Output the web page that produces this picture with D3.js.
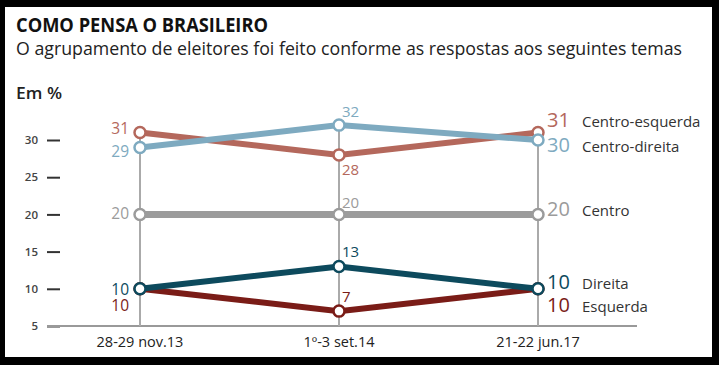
<!DOCTYPE html>
<html>
<head>
<meta charset="utf-8">
<script src="https://cdn.jsdelivr.net/npm/d3@7"></script>
<style>
  body { margin: 0; background: #000; }
  svg { display: block; }
  text { font-family: "Open Sans", "Noto Sans", sans-serif; }
</style>
</head>
<body>
<div id="chart"></div>
<script>
// Survey dates (x categories)
const dates = ["28-29 nov.13", "1º-3 set.14", "21-22 jun.17"];

// Series values, in %
const centroEsquerda = [31, 28, 31];
const centroDireita = [29, 32, 30];
const centro = [20, 20, 20];
const esquerda = [10, 7, 10];
const direita = [10, 13, 10];

const yTicks = [5, 10, 15, 20, 25, 30];

// drawing order: later ones sit on top
const series = [
    { name: "Centro-esquerda", values: centroEsquerda, color: "#b4685c", width: 6 },
    { name: "Centro-direita", values: centroDireita, color: "#7eaac0", width: 6 },
    { name: "Centro", values: centro, color: "#9b9b9b", width: 7 },
    { name: "Esquerda", values: esquerda, color: "#7a1c17", width: 6 },
    { name: "Direita", values: direita, color: "#0d4a5d", width: 6 }
];

// label offsets (baseline relative to the point) for each date
const labelDy = {
    "Centro-esquerda": [1, 20, -6],
    "Centro-direita": [10, -8, 12],
    "Centro": [5, -6, 2],
    "Esquerda": [22, -9, 23],
    "Direita": [6, -9, 0]
};

const W = 719, H = 365;

const svg = d3.select('#chart')
    .append('svg')
    .attr('width', W)
    .attr('height', H);

svg.append('rect')
    .attr('width', W).attr('height', H)
    .attr('fill', '#000');

svg.append('rect')
    .attr('x', 5).attr('y', 7)
    .attr('width', 707).attr('height', 350)
    .attr('fill', '#fff');

// Titles
svg.append('text')
    .attr('x', 16).attr('y', 32)
    .attr('textLength', 252)
    .attr('lengthAdjust', 'spacingAndGlyphs')
    .style('font-size', '19px')
    .style('font-weight', 'bold')
    .style('fill', '#111')
    .text('COMO PENSA O BRASILEIRO');

svg.append('text')
    .attr('x', 16).attr('y', 55)
    .attr('textLength', 666)
    .attr('lengthAdjust', 'spacingAndGlyphs')
    .style('font-size', '17.5px')
    .style('fill', '#222')
    .text('O agrupamento de eleitores foi feito conforme as respostas aos seguintes temas');

svg.append('text')
    .attr('x', 16).attr('y', 99)
    .attr('textLength', 46)
    .attr('lengthAdjust', 'spacingAndGlyphs')
    .style('font-size', '16px')
    .style('font-weight', '600')
    .style('fill', '#222')
    .text('Em %');

// Scales
const x = d3.scalePoint().domain(dates).range([140, 538]);
const y = d3.scaleLinear().domain([5, 30]).range([326, 140]);

// Y axis: short dashes, no domain line
const yAxis = svg.append('g')
    .attr('transform', 'translate(60,0)')
    .call(d3.axisLeft(y).tickValues(yTicks).tickSize(13).tickPadding(9));
yAxis.select('.domain').remove();
yAxis.selectAll('line').attr('stroke', '#333').attr('stroke-width', 2);
yAxis.selectAll('text')
    .style('font-family', '"Open Sans", sans-serif')
    .style('font-size', '11.5px')
    .style('font-weight', '600')
    .style('fill', '#444');

// baseline
svg.append('line')
    .attr('x1', 47).attr('x2', 637)
    .attr('y1', y(yTicks[0])).attr('y2', y(yTicks[0]))
    .attr('stroke', '#999')
    .attr('stroke-width', 2);

// X labels
svg.selectAll('.xlab')
    .data(dates)
    .enter()
    .append('text')
    .attr('class', 'xlab')
    .attr('x', d => x(d))
    .attr('y', 347)
    .attr('text-anchor', 'middle')
    .style('font-size', '14.5px')
    .style('fill', '#222')
    .text(d => d);

// Vertical guides from top value down to baseline
svg.selectAll('.guide')
    .data(dates)
    .enter()
    .append('line')
    .attr('class', 'guide')
    .attr('x1', d => x(d)).attr('x2', d => x(d))
    .attr('y1', (d, i) => y(d3.max(series, s => s.values[i])))
    .attr('y2', y(yTicks[0]))
    .attr('stroke', '#aaa')
    .attr('stroke-width', 2);

const line = d3.line()
    .x((d, i) => x(dates[i]))
    .y(d => y(d));

series.forEach(s => {
    const g = svg.append('g');

    g.append('path')
        .attr('d', line(s.values))
        .attr('fill', 'none')
        .attr('stroke', s.color)
        .attr('stroke-width', s.width);

    g.selectAll('circle')
        .data(s.values)
        .enter()
        .append('circle')
        .attr('cx', (d, i) => x(dates[i]))
        .attr('cy', d => y(d))
        .attr('r', 5.5)
        .attr('fill', '#fff')
        .attr('stroke', s.color)
        .attr('stroke-width', 2.5);
});

// Value labels
series.forEach(s => {
    const dy = labelDy[s.name];
    s.values.forEach((v, i) => {
        const px = x(dates[i]);
        const py = y(v) + dy[i];
        const t = svg.append('text')
            .attr('y', py)
            .style('fill', s.color)
            .text(v);
        if (i === 0) {
            t.attr('x', px - 11).attr('text-anchor', 'end').style('font-size', '15.5px');
        } else if (i === 1) {
            t.attr('x', px + 3).style('font-size', '15px');
        } else {
            t.attr('x', px + 9).style('font-size', '20px');
            svg.append('text')
                .attr('x', px + 44)
                .attr('y', py)
                .style('font-size', '15px')
                .style('fill', '#333')
                .text(s.name);
        }
    });
});
</script>
</body>
</html>
